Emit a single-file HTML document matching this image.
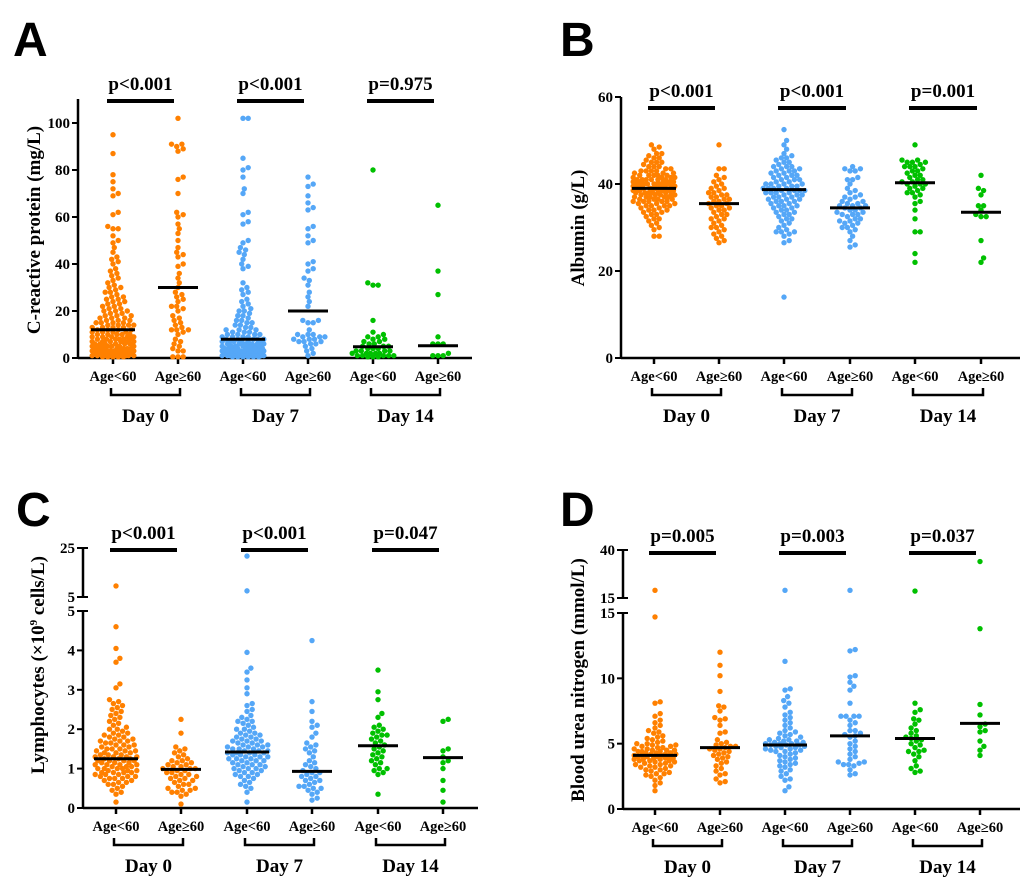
<!DOCTYPE html>
<html><head><meta charset="utf-8"><style>
html,body{margin:0;padding:0;background:#fff;}
svg{display:block;}
text{font-family:"Liberation Serif",serif;font-weight:bold;fill:#000;}
.big{font-family:"Liberation Sans",sans-serif;font-size:48px;font-weight:bold;}
</style></head><body>
<svg id="chart" width="1020" height="881" viewBox="0 0 1020 881" xmlns="http://www.w3.org/2000/svg">
<text class="big" x="13" y="56">A</text>
<text class="big" x="560" y="56">B</text>
<text class="big" x="16" y="526">C</text>
<text class="big" x="560" y="526">D</text>
</svg>
<script>
// ---- Data ----
const groupLabels = ["Age<60","Age≥60","Age<60","Age≥60","Age<60","Age≥60"];
const dayLabels = ["Day 0","Day 7","Day 14"];
const groupColors = ["#ff8000","#ff8000","#55a7f7","#55a7f7","#00c000","#00c000"];

const crpA0 = [95,87,78,75,72,70,69,62,61,56,55,55,52,50,49,47,45,43,42,41,40,38,37,36,35,34,33,32,31,30,30,29,28,28,27,26,26,25,25,24,24,23,23,22,22,21,21,20,20,20,19,19,18,18,18,17,17,17,16,16,16,15,15,15,15,14,14,14,14,13,13,13,13,12,12,12,12,11,11,11,11,10,10,10,10,10,9,9,9,9,9,8,8,8,8,8,8,7,7,7,7,7,7,6,6,6,6,6,6,5,5,5,5,5,5,5,4,4,4,4,4,4,4,3,3,3,3,3,3,3,3,3,3,2,2,2,2,2,2,2,2,2,2,2,1,1,1,1,1,1,1,1,1,0.5,0.5,0.5,0.5,0.5];
const crpA1 = [102,91,91,90,89,88,77,76,70,62,61,60,57,55,53,50,47,45,44,43,40,39,36,34,32,30,28,27,26,25,24,22,22,21,20,18,17,16,15,14,13,12,12,12,11,10,8,7,6,5,4,3,3,0.5,0.5,0.5];
const crpB0 = [102,102,85,81,80,77,72,70,62,61,58,57,50,49,47,46,45,44,42,40,39,38,32,30,29,28,27,25,24,23,22,21,20,20,19,18,18,17,16,16,15,15,14,14,13,13,12,12,12,11,11,11,10,10,10,10,9,9,9,9,8,8,8,8,8,7,7,7,7,7,7,6,6,6,6,6,6,5,5,5,5,5,5,5,4,4,4,4,4,4,4,4,3,3,3,3,3,3,3,3,3,3,2,2,2,2,2,2,2,2,2,2,1,1,1,1,1,1,1,1,1,1,0.5,0.5,0.5,0.5,0.5,0.5];
const crpB1 = [77,74,73,69,66,64,63,56,55,52,50,49,41,40,38,37,34,33,31,28,26,24,22,16,16,15,15,12,10,10,10,9,9,9,8,8,8,7,7,7,6,6,5,4,3,2,1];
const crpC0 = [80,32,31,31,16,11,10,9,9,8,8,7,7,6,6,5,5,5,4,4,4,3,3,3,3,2,2,2,2,2,1,1,1,1,1,0.5,0.5,0.5];
const crpC1 = [65,37,27,9,6,6,6,2,1,1,1];
const crpMedians = [12,30,8,20,4.8,5.2];
const crpP = ["p<0.001","p<0.001","p=0.975"];
const crpTicks = [0,20,40,60,80,100];

const albA0 = [49,48.5,48,47,47,46.5,46,46,45.5,45,45,45,44.5,44,44,44,43.5,43.5,43,43,43,43,42.5,42.5,42.5,42,42,42,42,42,41.5,41.5,41.5,41.5,41,41,41,41,41,41,40.5,40.5,40.5,40.5,40.5,40,40,40,40,40,40,40,39.5,39.5,39.5,39.5,39.5,39,39,39,39,39,39,39,38.5,38.5,38.5,38.5,38.5,38,38,38,38,38,38,37.5,37.5,37.5,37.5,37.5,37,37,37,37,37,36.5,36.5,36.5,36.5,36,36,36,36,36,35.5,35.5,35.5,35,35,35,35,34.5,34.5,34,34,34,33.5,33.5,33,33,32.5,32,32,31.5,31,30.5,30,29.5,28,28];
const albA1 = [49,43.5,43.5,42,41.5,41,40.5,40,39.5,39,39,38.5,38,38,37.5,37.5,37,37,36.5,36.5,36,36,35.5,35.5,35,35,34.5,34.5,34,34,33.5,33,33,32.5,32,32,31.5,31,30.5,30,30,29.5,29,28.5,28,27.5,27,26.5];
const albB0 = [52.5,50,49,48,47,46.5,46,46,45.5,45,45,44.5,44,44,44,43.5,43.5,43,43,43,42.5,42.5,42,42,42,41.5,41.5,41,41,41,40.5,40.5,40,40,40,40,39.5,39.5,39.5,39,39,39,39,38.5,38.5,38.5,38.5,38,38,38,38,37.5,37.5,37.5,37,37,37,36.5,36.5,36.5,36,36,36,35.5,35.5,35,35,35,34.5,34.5,34,34,33.5,33.5,33,33,32.5,32,32,31.5,31,30.5,30,29.5,29,29,29,28.5,28,27,26.5,14];
const albB1 = [44,43.5,43.5,43,43,41.5,41,41,40,39,38.5,38,37.5,37,37,36.5,36,36,35.5,35.5,35,35,35,34.5,34.5,34,34,33.5,33.5,33,33,33,32.5,32,32,31.5,31.5,31,31,30.5,30,30,29.5,29,28,27,26,25.5];
const albC0 = [49,45.5,45.5,45,45,45,44.5,44,44,44,43.5,43,43,42.5,42,42,41.5,41,41,40.5,40.5,40,40,40,39.5,39,39,38.5,38,38,37.5,37,36,35.5,34,32,29,29,24,22];
const albC1 = [42,39,38.5,37.5,35,35,34,33,32.5,32.5,27,23,22];
const albMedians = [39,35.5,38.7,34.5,40.3,33.5];
const albP = ["p<0.001","p<0.001","p=0.001"];
const albTicks = [0,20,40,60];

const lymA0 = [9.5,4.6,4.05,3.8,3.7,3.15,3.05,2.75,2.7,2.65,2.6,2.55,2.5,2.45,2.4,2.35,2.3,2.25,2.2,2.15,2.1,2.05,2,2,1.95,1.9,1.9,1.85,1.85,1.8,1.8,1.75,1.75,1.7,1.7,1.7,1.65,1.65,1.6,1.6,1.6,1.55,1.55,1.5,1.5,1.5,1.45,1.45,1.45,1.4,1.4,1.4,1.35,1.35,1.35,1.3,1.3,1.3,1.3,1.25,1.25,1.25,1.2,1.2,1.2,1.2,1.15,1.15,1.15,1.1,1.1,1.1,1.1,1.05,1.05,1.05,1,1,1,1,0.95,0.95,0.95,0.9,0.9,0.9,0.9,0.85,0.85,0.85,0.8,0.8,0.8,0.75,0.75,0.75,0.7,0.7,0.65,0.65,0.6,0.6,0.55,0.5,0.45,0.4,0.35,0.15];
const lymA1 = [2.25,1.9,1.55,1.5,1.45,1.4,1.35,1.3,1.25,1.2,1.2,1.15,1.15,1.1,1.1,1.05,1.05,1,1,1,0.95,0.95,0.9,0.9,0.85,0.85,0.8,0.8,0.75,0.75,0.7,0.7,0.65,0.6,0.6,0.55,0.5,0.5,0.45,0.45,0.4,0.4,0.35,0.3,0.1];
const lymB0 = [21.7,7.5,3.95,3.55,3.45,3.25,3.05,2.9,2.65,2.6,2.5,2.45,2.35,2.3,2.25,2.2,2.2,2.15,2.1,2.05,2,2,1.95,1.9,1.9,1.85,1.85,1.8,1.8,1.75,1.75,1.7,1.7,1.7,1.65,1.65,1.6,1.6,1.6,1.55,1.55,1.55,1.5,1.5,1.5,1.45,1.45,1.45,1.4,1.4,1.4,1.4,1.35,1.35,1.35,1.3,1.3,1.3,1.25,1.25,1.25,1.2,1.2,1.2,1.15,1.15,1.1,1.1,1.1,1.05,1.05,1,1,1,0.95,0.95,0.9,0.9,0.85,0.85,0.8,0.8,0.75,0.7,0.65,0.6,0.55,0.5,0.4,0.15];
const lymB1 = [4.25,2.7,2.45,2.2,2.1,2.05,1.9,1.8,1.65,1.6,1.55,1.5,1.45,1.4,1.3,1.2,1.15,1.1,1.05,1,0.95,0.9,0.9,0.85,0.8,0.8,0.75,0.7,0.7,0.65,0.6,0.55,0.55,0.5,0.5,0.45,0.4,0.35,0.25,0.2];
const lymC0 = [3.5,2.95,2.75,2.4,2.3,2.1,2.05,2,1.95,1.9,1.85,1.85,1.8,1.75,1.7,1.65,1.6,1.55,1.5,1.45,1.4,1.35,1.3,1.25,1.2,1.15,1.1,1,1,0.95,0.9,0.85,0.35];
const lymC1 = [2.25,2.2,1.5,1.45,1.3,1.2,1.15,1,0.7,0.45,0.15];
const lymMedians = [1.25,0.98,1.42,0.93,1.58,1.28];
const lymP = ["p<0.001","p<0.001","p=0.047"];
const lymTicksLow = [0,1,2,3,4,5];
const lymTicksHigh = [5,25];

const bunA0 = [19,14.7,8.2,8.1,7.3,7.1,6.8,6.6,6.4,6.2,6,5.9,5.8,5.6,5.5,5.4,5.3,5.2,5.1,5,5,4.9,4.9,4.8,4.8,4.7,4.7,4.6,4.6,4.5,4.5,4.5,4.4,4.4,4.4,4.3,4.3,4.3,4.2,4.2,4.2,4.1,4.1,4.1,4,4,4,4,3.9,3.9,3.9,3.8,3.8,3.8,3.7,3.7,3.7,3.6,3.6,3.5,3.5,3.4,3.4,3.3,3.3,3.2,3.2,3.1,3,3,2.9,2.8,2.7,2.7,2.6,2.5,2.4,2.2,2,1.8,1.4];
const bunA1 = [12,11,10.2,9,7.9,7.8,7.5,7,6.9,6.8,6.4,5.9,5.8,5.3,5.1,5,4.9,4.8,4.8,4.7,4.6,4.6,4.5,4.4,4.3,4.2,4.1,4,3.9,3.8,3.6,3.5,3.3,3.1,2.9,2.7,2.6,2.3,2.1,2];
const bunB0 = [19,11.3,9.2,9.1,8.6,8.3,8.1,7.8,7.4,7.2,7,6.8,6.6,6.4,6.2,6,5.9,5.8,5.7,5.6,5.5,5.4,5.3,5.3,5.2,5.2,5.1,5.1,5,5,5,4.9,4.9,4.9,4.8,4.8,4.7,4.7,4.6,4.6,4.5,4.5,4.4,4.4,4.3,4.2,4.1,4,3.9,3.8,3.7,3.6,3.5,3.4,3.3,3.2,3,2.9,2.7,2.5,2.3,2.2,1.7,1.4];
const bunB1 = [19,12.2,12.1,10.2,10.1,9.7,9.4,9.1,8.1,7.1,7.1,7.1,7.1,6.8,6.6,6.4,6,6,5.8,5.7,5.6,5.5,5.2,5,4.8,4.6,4.4,4.2,4,3.8,3.6,3.6,3.5,3.4,3.4,3.3,3,2.7,2.6];
const bunC0 = [18.6,8.1,7.6,7.4,6.9,6.8,6.5,6.2,6,5.8,5.6,5.5,5.4,5.3,5.2,5,4.9,4.7,4.5,4.4,4.4,4.2,4,3.7,3.3,3.1,2.9,2.8];
const bunC1 = [34,13.8,8,7.2,6.5,6.3,6,5.9,5.2,4.8,4.5,4.1];
const bunMedians = [4.1,4.7,4.9,5.6,5.4,6.55];
const bunP = ["p=0.005","p=0.003","p=0.037"];
const bunTicksLow = [0,5,10,15];
const bunTicksHigh = [15,40];

// ---- Drawing ----
const svg = document.getElementById('chart');
const NS = 'http://www.w3.org/2000/svg';
function mk(tag, attrs, parent){
  const e = document.createElementNS(NS, tag);
  for (const k in attrs) e.setAttribute(k, attrs[k]);
  (parent||svg).appendChild(e);
  return e;
}
function line(g,x1,y1,x2,y2,w){ return mk('line',{x1:x1,y1:y1,x2:x2,y2:y2,stroke:'#000','stroke-width':w||2},g); }

function drawPanel(p){
  const g = mk('g',{});
  
  
  function y(v){
    if (p.high && v > p.low.max) {
      const h = p.high;
      return h.y0 - (v - h.min)/(h.max - h.min)*(h.y0 - h.y1);
    }
    return p.low.y0 - (v - p.low.min)/(p.low.max - p.low.min)*(p.low.y0 - p.low.y1);
  }
  const ax = p.axisX;
  line(g, ax, p.low.y0+1, ax, p.low.top, 2.5);
  p.low.ticks.forEach(t=>{
    const yy = y(t);
    line(g, ax-6, yy, ax, yy, 2);
    const tx = mk('text',{x:ax-8,y:yy+5,'text-anchor':'end','font-size':15},g);
    tx.textContent = t;
    
    
  });
  if (p.high){
    const h = p.high;
    line(g, ax, h.y0, ax, h.y1, 2.5);
    h.ticks.forEach(t=>{
      const yy = h.y0 - (t - h.min)/(h.max - h.min)*(h.y0 - h.y1);
      line(g, ax-6, yy, ax+5, yy, 2);
      const tx = mk('text',{x:ax-8,y:yy+5,'text-anchor':'end','font-size':15},g);
      tx.textContent = t;
      
      
    });
    line(g, ax, p.low.y1, ax+5, p.low.y1, 2);
  }
  const yt = mk('text',{x:0,y:0,'text-anchor':'middle','font-size':19,transform:`translate(${p.titleX},${p.titleY}) rotate(-90)`},g);
  yt.innerHTML = p.title;
  
  
  line(g, ax, p.low.y0, p.axisEnd, p.low.y0, 2.5);
  p.centers.forEach((cx,i)=>{
    line(g, cx, p.low.y0, cx, p.low.y0+6, 2.5);
    const tl = mk('text',{x:cx,y:p.low.y0+23,'text-anchor':'middle','font-size':14.5},g);
    tl.textContent = groupLabels[i];
    
    
  });
  for (let d=0; d<3; d++){
    const a = p.centers[2*d]-2, b = p.centers[2*d+1]+2, by = p.low.y0+37;
    const br = mk('path',{d:`M${a},${by-7} V${by} H${b} V${by-7}`,fill:'none',stroke:'#000','stroke-width':2.5},g);
    
    
    const dl = mk('text',{x:(a+b)/2,y:by+27,'text-anchor':'middle','font-size':19},g);
    dl.textContent = dayLabels[d];
    
    
    const pa = p.centers[2*d]-6, pb = p.centers[2*d+1]-4;
    const pl = line(g, pa, p.pY, pb, p.pY, 4);
    
    const pt = mk('text',{x:(pa+pb)/2,y:p.pY-11,'text-anchor':'middle','font-size':19},g);
    pt.textContent = p.pvals[d];
    
    
  }
  const R = 2.7, D = 5.0, MAXOFF = 21;
  p.series.forEach((vals,i)=>{
    const cx = p.centers[i];
    const placed = [];
    const sorted = vals.slice().sort((a,b)=>a-b);
    sorted.forEach(v=>{
      const yy = y(v);
      let best = null, bestScore = -1, bestOff = 0;
      for (let k=0;k<200;k++){
        const off = (k%2===1 ? 1 : -1)*Math.ceil(k/2)*1.3;
        if (Math.abs(off) > MAXOFF) break;
        let md = 1e9;
        for (const q of placed){
          const dx = q[0]-off, dy = q[1]-yy;
          const dd = dx*dx+dy*dy;
          if (dd < md) md = dd;
        }
        if (md >= D*D*0.9){ best = off; break; }
        if (md > bestScore){ bestScore = md; bestOff = off; }
      }
      if (best === null) best = bestOff;
      placed.push([best,yy]);
      const c = mk('circle',{cx:cx+best,cy:yy,r:R,fill:groupColors[i]},g);
      
      
    });
    const my = y(p.medians[i]);
    const hw = vals.length > 60 ? 22 : 20;
    const ml = line(g, cx-hw, my, cx+hw, my, 3);
    
  });
}

drawPanel({name:'panel-a-crp', axisX:78, axisEnd:472, centers:[113,178,243,308,373,438],
  low:{min:0,max:100,y0:358,y1:123,top:99,ticks:crpTicks}, pY:101, pvals:crpP,
  title:'C-reactive protein (mg/L)', titleX:40, titleY:230,
  series:[crpA0,crpA1,crpB0,crpB1,crpC0,crpC1], medians:crpMedians});
drawPanel({name:'panel-b-albumin', axisX:621, axisEnd:1020, centers:[654,719,784,850,915,981],
  low:{min:0,max:60,y0:358,y1:97,top:97,ticks:albTicks}, pY:108, pvals:albP,
  title:'Albumin (g/L)', titleX:584, titleY:228,
  series:[albA0,albA1,albB0,albB1,albC0,albC1], medians:albMedians});
drawPanel({name:'panel-c-lymphocytes', axisX:83, axisEnd:478, centers:[116,181,247,312,378,443],
  low:{min:0,max:5,y0:808,y1:611,top:611,ticks:lymTicksLow},
  high:{min:5,max:25,y0:597,y1:548,ticks:lymTicksHigh}, pY:550, pvals:lymP,
  title:'Lymphocytes (×10<tspan font-size="11" dy="-7">9</tspan><tspan dy="7"> cells/L)</tspan>', titleX:44, titleY:665,
  series:[lymA0,lymA1,lymB0,lymB1,lymC0,lymC1], medians:lymMedians});
drawPanel({name:'panel-d-bun', axisX:623, axisEnd:1020, centers:[655,720,785,850,915,980],
  low:{min:0,max:15,y0:809,y1:613,top:613,ticks:bunTicksLow},
  high:{min:15,max:40,y0:598,y1:550,ticks:bunTicksHigh}, pY:553, pvals:bunP,
  title:'Blood urea nitrogen (mmol/L)', titleX:584, titleY:680,
  series:[bunA0,bunA1,bunB0,bunB1,bunC0,bunC1], medians:bunMedians});
</script>
</body></html>
